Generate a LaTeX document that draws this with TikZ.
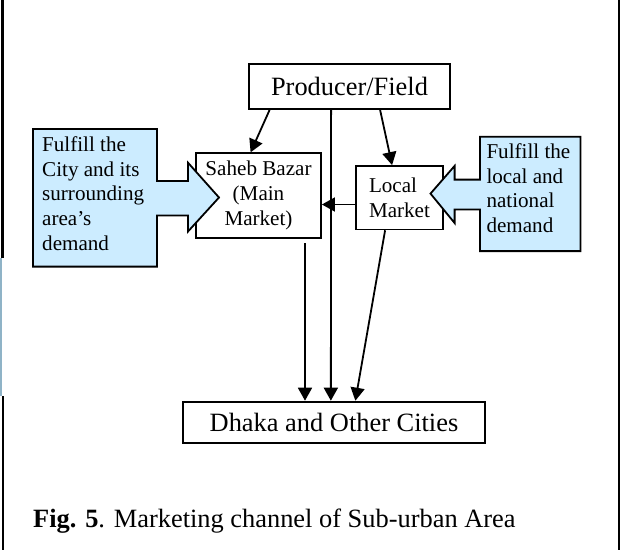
\documentclass[tikz,border=0pt]{standalone}
\usepackage{fontspec}
\setmainfont{Liberation Serif}
\usetikzlibrary{arrows.meta,calc}
\definecolor{callblue}{HTML}{CCECFF}
\definecolor{edgeblue}{HTML}{8FB3C7}

\tikzset{
  box/.style={draw, line width=1.8pt, inner sep=0pt, align=center},
  flow/.style={line width=1.8pt, -{Triangle[length=13pt,width=14pt]}},
  callout/.style={draw, line width=1.8pt, fill=callblue, line join=miter},
  bigtxt/.style={font=\fontsize{26.4}{29}\selectfont},
  smalltxt/.style={font=\fontsize{21.1}{24.7}\selectfont},
}

\begin{document}
\begin{tikzpicture}[x=1pt,y=-1pt]
\useasboundingbox (0,0) rectangle (621,550);
% page edges
\draw[line width=2.5pt] (2.5,0) -- (2.5,258);
\fill[edgeblue] (0,258) rectangle (2,396);
\draw[line width=2.5pt] (3,396) -- (3,550);
\draw[line width=2pt] (619,0) -- (619,550);

% boxes
\node[box, bigtxt, minimum width=201pt, minimum height=45pt] (prod) at (349.5,86.5) {Producer/Field};
\node[box, smalltxt, minimum width=125pt, minimum height=84.5pt] (saheb) at (258.5,195.5) {Saheb Bazar\\(Main\\Market)};
\node[box, smalltxt, align=left, minimum width=87pt, minimum height=63.4pt] (local) at (399.5,197.7) {Local\\Market};
\node[box, bigtxt, minimum width=302.5pt, minimum height=41.4pt] (dhaka) at (334,422.3) {Dhaka and Other Cities};

% demand callouts
\draw[callout] (33,129) -- (157,129) -- (157,181) -- (188,181) -- (188,162.7) -- (219,197.5)
  -- (188,231.5) -- (188,215.4) -- (157,215.4) -- (157,266.6) -- (33,266.6) -- cycle;
\node[smalltxt, anchor=north west, inner sep=0pt, align=left] (cityneed) at (42,136.5)
  {Fulfill the\\City and its\\surrounding\\area’s\\demand};
\draw[callout] (580.5,136.8) -- (480,136.8) -- (480,179.6) -- (454.6,179.6) -- (454.6,165.9) -- (430.5,193.6)
  -- (454.6,223) -- (454.6,209.4) -- (480,209.4) -- (480,251.1) -- (580.5,251.1) -- cycle;
\node[smalltxt, anchor=north west, inner sep=0pt, align=left] (natneed) at (486.3,143.5)
  {Fulfill the\\local and\\national\\demand};

% channels
\coordinate (sahebout) at (305,243);
\draw[flow] ($(prod.south west)+(21.5,0)$) -- ($(saheb.north west)+(55.5,0)$);
\draw[flow] ($(prod.south west)+(83,0)$) -- ($(dhaka.north west)+(149,0)$);
\draw[flow] ($(prod.south west)+(132,0)$) -- ($(local.north west)+(37,0)$);
\draw[flow] ($(local.west)+(0,6.8)$) -- ($(saheb.east)+(0,9)$);
\draw[flow] (sahebout) -- (sahebout |- dhaka.north);
\draw[flow] ($(local.south west)+(30,0)$) -- ($(dhaka.north west)+(173.5,0)$);

\node[bigtxt, anchor=base west, inner sep=0pt] (caption) at (33,527)
  {\textbf{Fig. 5}. Marketing channel of Sub-urban Area};
\end{tikzpicture}
\end{document}
